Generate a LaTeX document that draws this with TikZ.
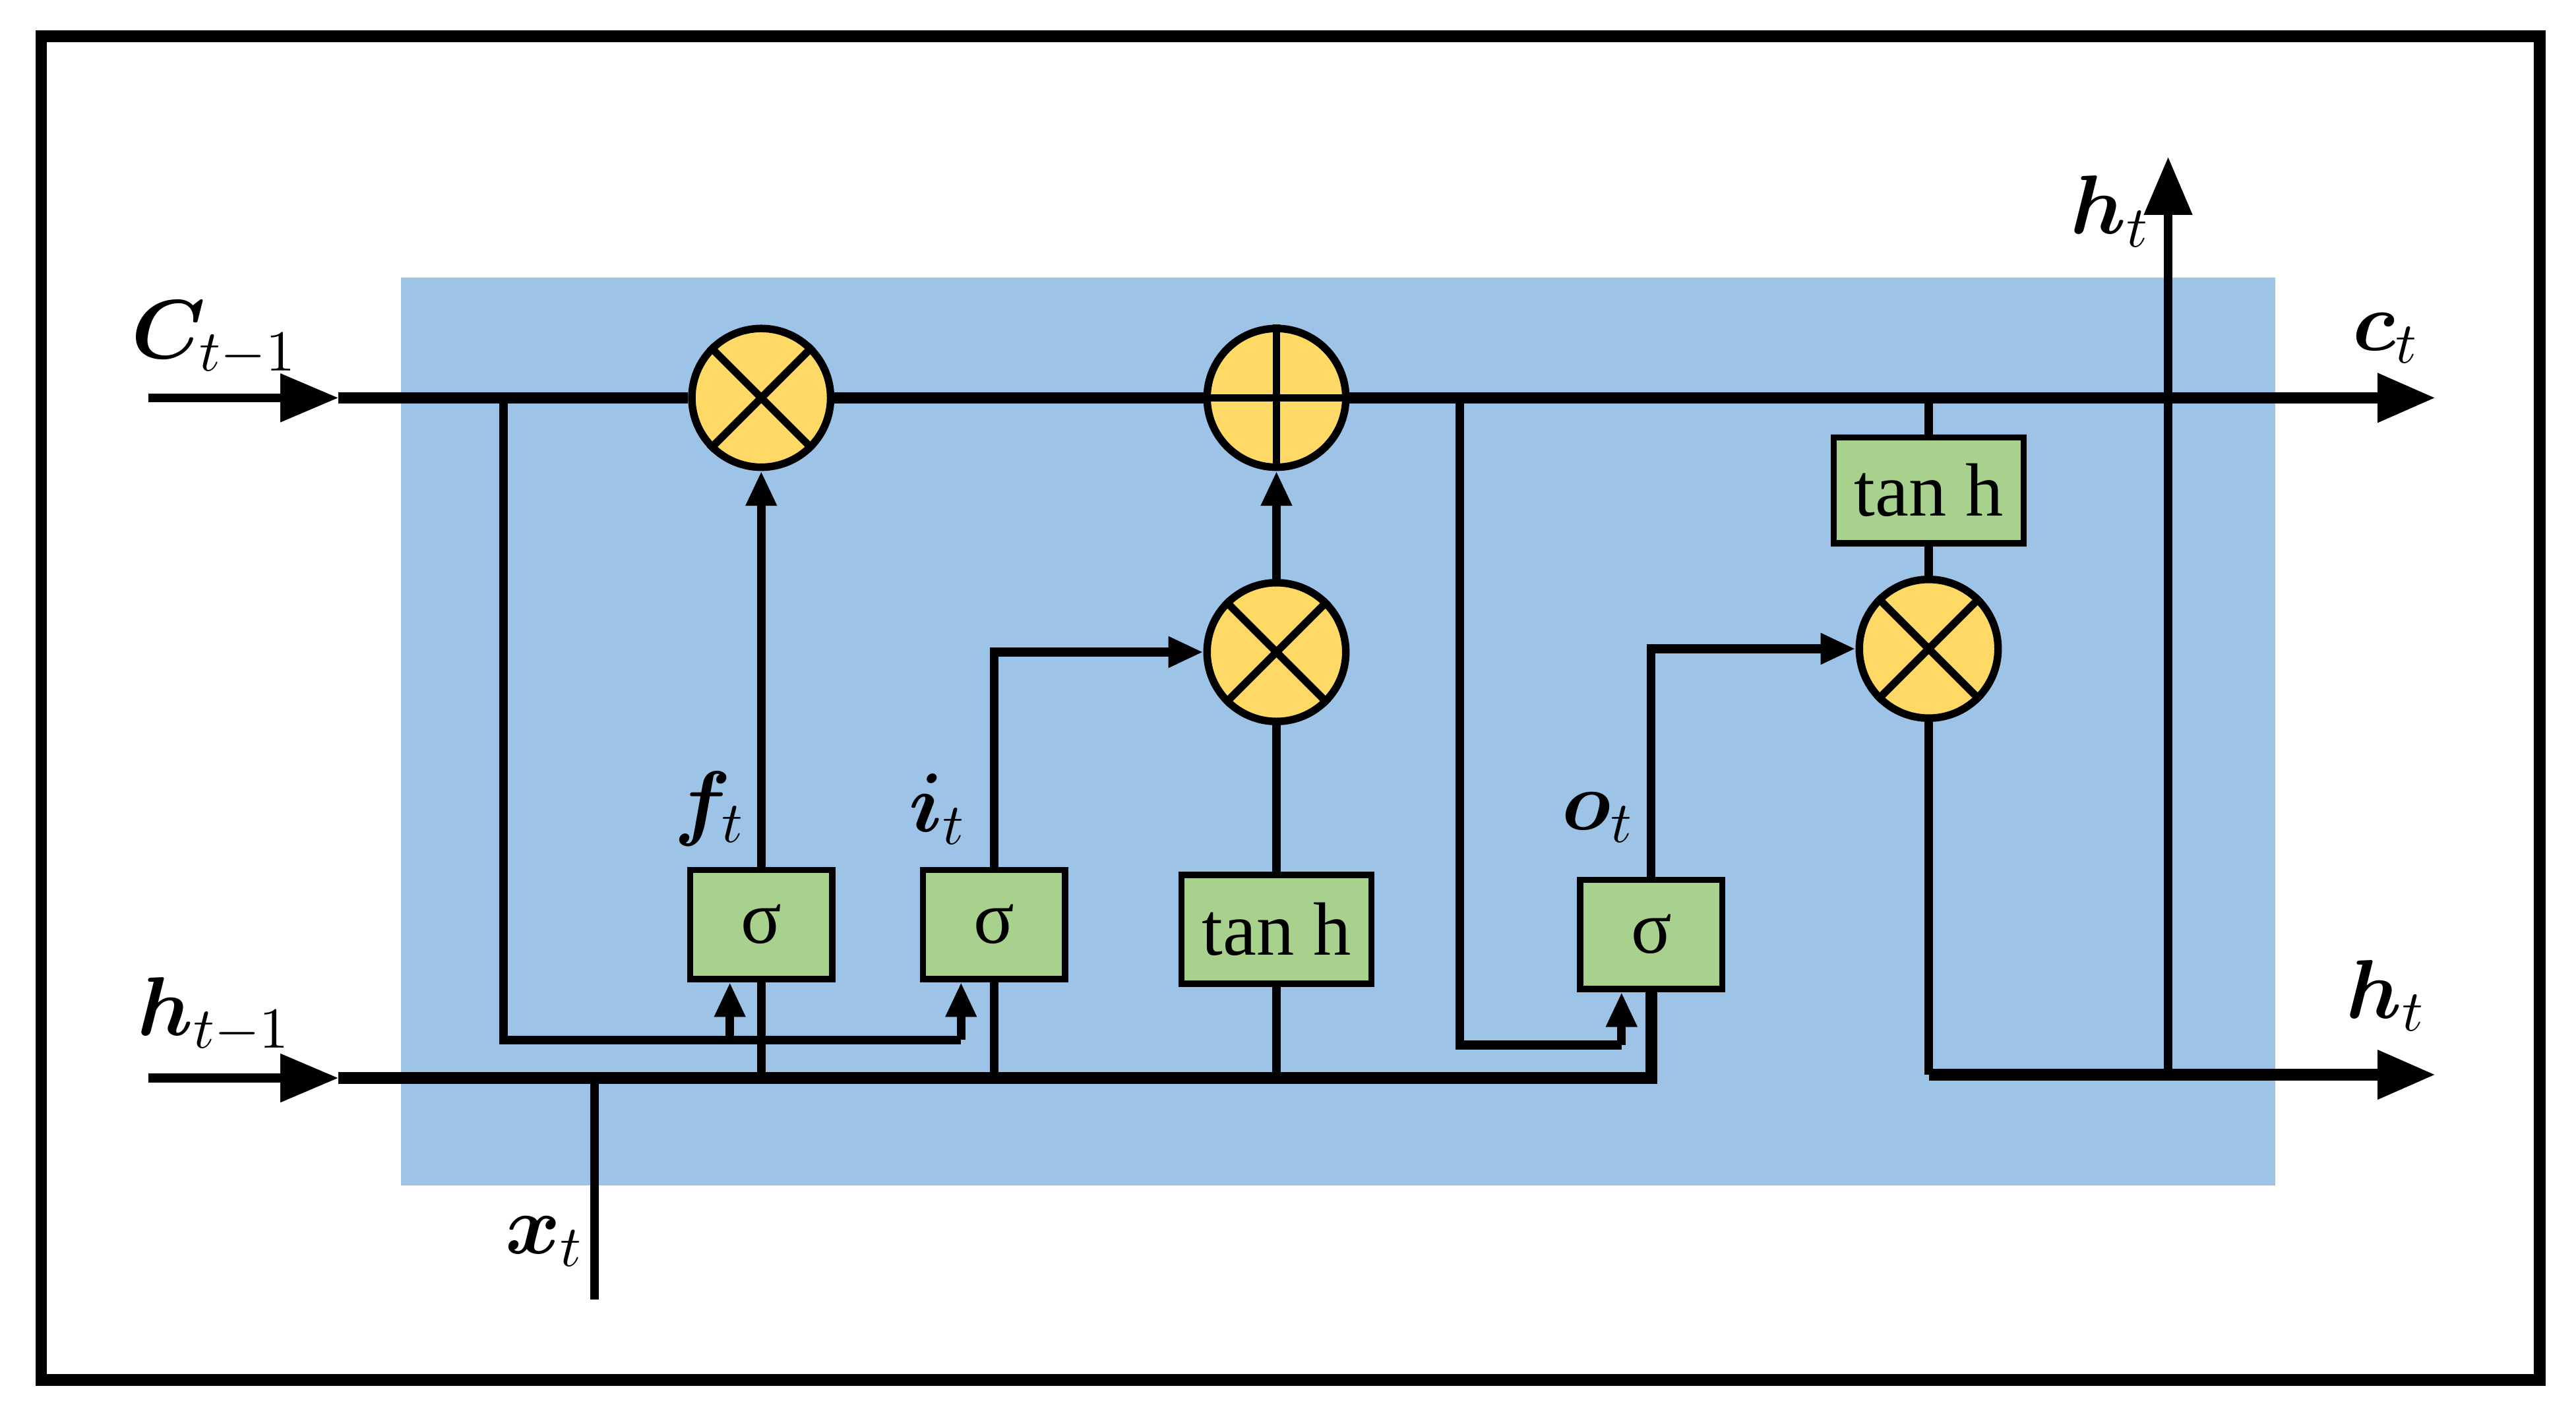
\documentclass[tikz,border=0pt]{standalone}
\usepackage{amsmath,bm}
\usepackage{fontspec}
\setmainfont{Liberation Serif}
\usetikzlibrary{arrows.meta}
\definecolor{bl}{HTML}{9DC3E6}
\definecolor{yl}{HTML}{FFD966}
\definecolor{gr}{HTML}{A9D18E}
\begin{document}
\begin{tikzpicture}[x=0.01cm,y=-0.01cm,
  ln/.style={line width=1.5pt},
  arr/.style={ln,-{Triangle[length=6pt,width=5pt]}},
  big/.style={ln,-{Triangle[length=10pt,width=8pt]}},
  op/.style={circle,draw,line width=1.3pt,fill=yl,minimum size=0.84cm,inner sep=0pt},
  gate/.style={draw,line width=1.1pt,fill=gr,minimum width=0.86cm,minimum height=0.66cm,inner sep=0pt,font=\fontsize{13}{15}\selectfont},
  lab/.style={font=\fontsize{14}{16}\selectfont}]
\useasboundingbox (0,0) rectangle (1560,852);
\draw[line width=2pt] (25,22) rectangle (1538,836);
\fill[bl] (243,168) rectangle (1378,718);
% nodes
\node[op] (fm) at (461,241) {};
\node[op] (ad) at (773,241) {};
\node[op] (im) at (773,395) {};
\node[op] (om) at (1168,393) {};
\foreach \n in {fm,im,om}{\draw[line width=1.3pt] (\n.north east)--(\n.south west) (\n.north west)--(\n.south east);}
\draw[line width=1.3pt] (ad.north)--(ad.south) (ad.west)--(ad.east);
\node[gate] (fs) at (461,560) {σ};
\node[gate] (is) at (602,560) {σ};
\node[gate,minimum width=1.15cm] (tg) at (773,563) {tan h};
\node[gate] (os) at (1000,566) {σ};
\node[gate,minimum width=1.15cm,minimum height=0.64cm] (tc) at (1168,297) {tan h};
% coordinates
\coordinate (cin0) at (90,241); \coordinate (cin) at (205,241);
\coordinate (cout) at (1475,241);
\coordinate (hin0) at (90,653); \coordinate (hin) at (205,653);
\coordinate (hend) at (1000,653);
\coordinate (hout) at (1475,651);
\coordinate (htop) at (1313,95); \coordinate (hbot) at (1313,651);
\coordinate (x0) at (360,787); \coordinate (x1) at (360,653);
% main lines
\draw[big] (cin0)--(cin);
\draw[big] (hin0)--(hin);
\draw[ln,line width=2pt] (cin)--(fm.west) (fm.east)--(ad.west);
\draw[big,line width=2pt] (ad.east)--(cout);
\draw[ln,line width=2pt] (hin)--(hend)--(os.south);
\draw[ln] (x0)--(x1);
% forget/input gate inputs
\draw[ln] (305,241)--(305,630)--(582,630);
\draw[arr] (582,630)--(is.south-|582,0);
\draw[arr] (442,630)--(fs.south-|442,0);
\draw[ln] (fs.south)--(461,653);
\draw[ln] (is.south)--(602,653);
\draw[ln] (tg.south)--(773,653);
\draw[arr] (fs.north)--(fm.south);
\draw[arr] (is.north)--(602,395)--(im.west);
\draw[ln] (tg.north)--(im.south);
\draw[arr] (im.north)--(ad.south);
% output
\draw[ln] (884,241)--(884,633)--(982,633);
\draw[arr] (982,633)--(os.south-|982,0);
\draw[arr] (os.north)--(1000,393)--(om.west);
\draw[ln] (om.north)--(tc.south);
\draw[ln] (tc.north)--(1168,241);
\draw[ln] (om.south)--(1168,651);
\draw[big,line width=2pt] (1168,651)--(hout);
\draw[big] (hbot)--(htop);
% labels
\node[lab] at (130,205) {$\bm{C}_{t-1}$};
\node[lab] at (1445,205) {$\bm{c}_{t}$};
\node[lab] at (130,615) {$\bm{h}_{t-1}$};
\node[lab] at (1445,603) {$\bm{h}_{t}$};
\node[lab] at (1278,128) {$\bm{h}_{t}$};
\node[lab] at (330,752) {$\bm{x}_{t}$};
\node[lab] at (430,490) {$\bm{f}_{t}$};
\node[lab] at (568,490) {$\bm{i}_{t}$};
\node[lab] at (968,495) {$\bm{o}_{t}$};
\end{tikzpicture}
\end{document}
